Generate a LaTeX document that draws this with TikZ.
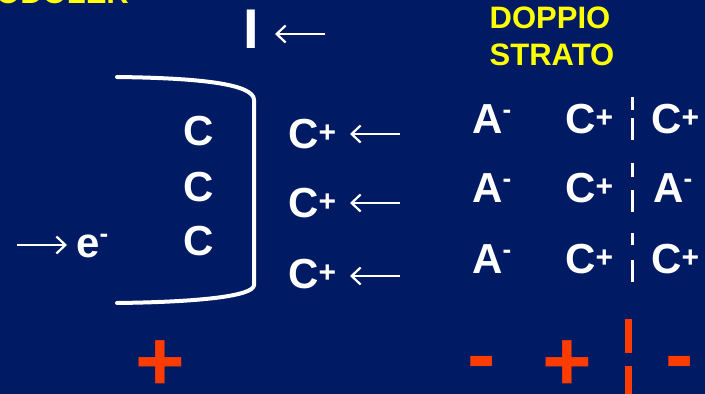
\documentclass[tikz,border=0pt]{standalone}
\usepackage{fontspec}
\setmainfont{Liberation Sans}
\usetikzlibrary{arrows.meta}
\definecolor{bg}{RGB}{0,27,100}
\definecolor{ylw}{RGB}{255,255,0}
\definecolor{org}{RGB}{255,60,0}
\newcommand\myplus{{\fontsize{30}{30}\selectfont\raisebox{6pt}{+}}}
\newcommand\myminus{{\fontsize{26}{26}\selectfont\raisebox{15pt}{-}}}
\begin{document}
\begin{tikzpicture}[x=1pt,y=-1pt,
  lbl/.style={font=\bfseries\fontsize{42}{42}\selectfont, text=white, inner sep=0pt, anchor=base west},
  ttl/.style={font=\bfseries\fontsize{31}{31}\selectfont, text=ylw, inner sep=0pt, anchor=base},
  sign/.style={font=\bfseries\fontsize{85}{85}\selectfont, text=org, inner sep=0pt, anchor=base, text depth=0pt},
  arr/.style={white, line width=2.2pt, -{Straight Barb[length=9pt,width=17pt,line width=2.2pt]}},
  sep/.style={white, line width=3pt},
  sepbig/.style={org, line width=7pt},
  electrode/.style={white, line width=4pt, line cap=round}]
\useasboundingbox (0,0) rectangle (705,394);
\fill[bg] (0,0) rectangle (705,394);
\begin{scope}
\clip (0,0) rectangle (705,394);
\node[ttl, anchor=base west] (toptitle) at (-4,3) {ODOLER};
\end{scope}
% current I
\node[font=\bfseries\fontsize{56}{56}\selectfont, text=white, inner sep=0pt, anchor=base west] (curI) at (243.5,48) {I};
\coordinate (iA) at (325,34); \coordinate (iB) at (275,34);
\draw[arr] (iA) -- (iB);
% title
\node[ttl] (dop) at (550,28) {DOPPIO};
\node[ttl] (str) at (552,65) {STRATO};
% electrode
\coordinate (e1) at (117,77); \coordinate (e2) at (254,100);
\coordinate (e3) at (254,285); \coordinate (e4) at (117,303);
\draw[electrode] (e1) .. controls (200,78) and (254,84) .. (e2) -- (e3) .. controls (254,296) and (200,302) .. (e4);
% carbon
\node[lbl] (c1) at (183,145) {C};
\node[lbl] (c2) at (183,201) {C};
\node[lbl] (c3) at (183,255) {C};
% electrons
\node[lbl] (el) at (76,257) {e\myminus};
\coordinate (eA) at (17,245); \coordinate (eB) at (67,245);
\draw[arr] (eA) -- (eB);
% incoming cations
\node[lbl] (k1) at (288,148) {C\myplus};
\node[lbl] (k2) at (288,217) {C\myplus};
\node[lbl] (k3) at (288,288) {C\myplus};
\coordinate (a1) at (400,134); \coordinate (b1) at (350,134);
\coordinate (a2) at (400,203); \coordinate (b2) at (350,203);
\coordinate (a3) at (400,276); \coordinate (b3) at (350,276);
\draw[arr] (a1) -- (b1);
\draw[arr] (a2) -- (b2);
\draw[arr] (a3) -- (b3);
% double layer
\node[lbl] (an1) at (472,133) {A\myminus};
\node[lbl] (an2) at (472,202) {A\myminus};
\node[lbl] (an3) at (472,273) {A\myminus};
\node[lbl] (cm1) at (565,133) {C\myplus};
\node[lbl] (cm2) at (565,202) {C\myplus};
\node[lbl] (cm3) at (565,273) {C\myplus};
% separator between layers
\draw[sep] (632,97) -- (632,110);  \draw[sep] (632,118) -- (632,140);
\draw[sep] (632,163) -- (632,177); \draw[sep] (632,190) -- (632,212);
\draw[sep] (632,233) -- (632,245); \draw[sep] (632,260) -- (632,282);
\node[lbl] (r1) at (651,133) {C\myplus};
\node[lbl] (r2) at (653,202) {A\myminus};
\node[lbl] (r3) at (651,273) {C\myplus};
% charges
\node[sign] (s1) at (160,390) {+};
\node[sign] (s2) at (482,383) {-};
\node[sign] (s3) at (567,390) {+};
\draw[sepbig] (628,319) -- (628,353);
\draw[sepbig] (628,366) -- (628,394);
\node[sign] (s5) at (680,383) {-};
\end{tikzpicture}
\end{document}
